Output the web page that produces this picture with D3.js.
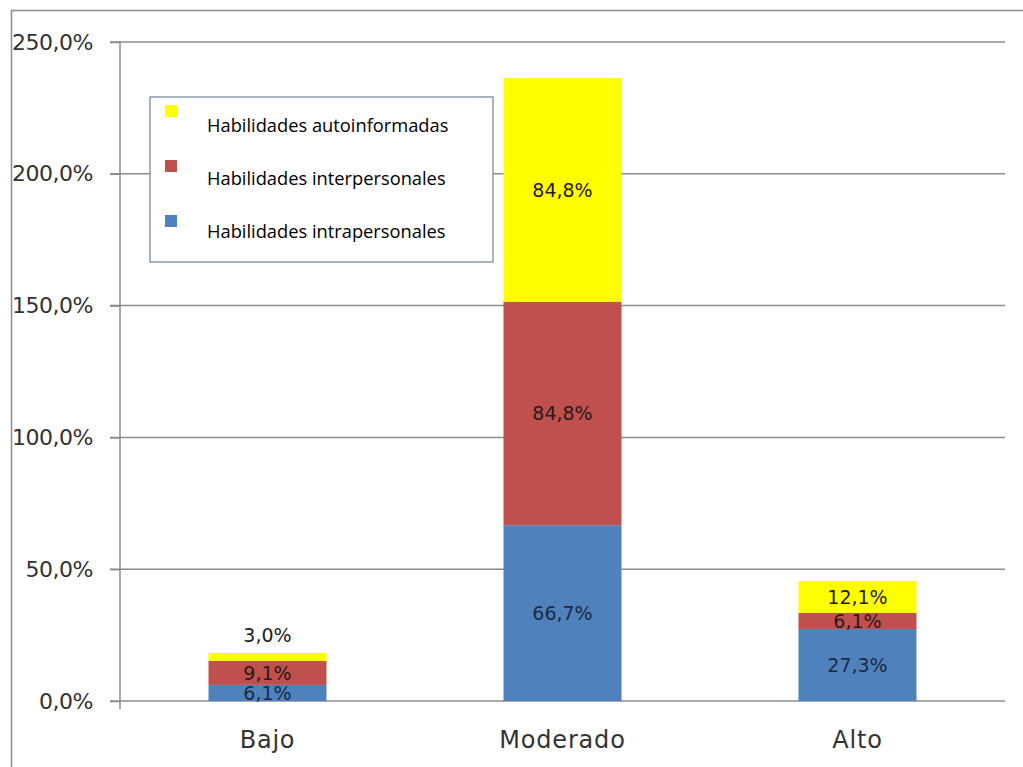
<!DOCTYPE html>
<html>
<head>
<meta charset="utf-8">
<script src="https://cdn.jsdelivr.net/npm/d3@7"></script>
<style>
  body { margin: 0; background: #fff; }
  svg { display: block; }
</style>
</head>
<body>
<div class="svg-container"></div>
<script>
// chart data
const categories = ['Bajo', 'Moderado', 'Alto'];
const seriesNames = ['Habilidades intrapersonales', 'Habilidades interpersonales', 'Habilidades autoinformadas'];
const intrapersonales = [6.1, 66.7, 27.3];
const interpersonales = [9.1, 84.8, 6.1];
const autoinformadas = [3.0, 84.8, 12.1];
const yTicks = [0, 50, 100, 150, 200, 250];
const colors = ['#4f81bd', '#c0504d', '#ffff00'];

const svgWidth = 1023;
const svgHeight = 767;
const margin = { top: 42, right: 18, bottom: 66, left: 120 };
const width = svgWidth - margin.left - margin.right;
const height = svgHeight - margin.top - margin.bottom;

const svg = d3.select('.svg-container')
  .append('svg')
  .attr('width', svgWidth)
  .attr('height', svgHeight);

// outer frame (right/bottom edges fall outside the picture)
svg.append('rect')
  .attr('x', 11.5).attr('y', 10.5)
  .attr('width', 1100).attr('height', 900)
  .attr('fill', 'none').attr('stroke', '#8c8c8c').attr('stroke-width', 1.5);

const group = svg.append('g')
  .attr('transform', `translate(${margin.left}, ${margin.top})`);

const table = categories.map((c, i) => ({
  cat: c,
  intra: intrapersonales[i],
  inter: interpersonales[i],
  auto: autoinformadas[i]
}));
const keys = ['intra', 'inter', 'auto'];
const stacked = d3.stack().keys(keys)(table);

const x = d3.scaleBand().domain(categories).range([0, width]).paddingInner(0.6).paddingOuter(0.3);
const y = d3.scaleLinear().domain([0, 250]).range([height, 0]);

const labelFont = '"DejaVu Sans", sans-serif';

// gridlines
group.append('g')
  .selectAll('line')
  .data(yTicks)
  .join('line')
  .attr('x1', -10).attr('x2', width)
  .attr('y1', d => y(d)).attr('y2', d => y(d))
  .attr('stroke', '#8c8c8c').attr('stroke-width', 1.5);

// Y axis
const yAxis = group.append('g')
  .call(d3.axisLeft(y).tickValues(yTicks).tickSize(10).tickPadding(17)
    .tickFormat(d => d3.format('.1f')(d).replace('.', ',') + '%'));
yAxis.select('.domain').remove();
yAxis.selectAll('.tick line').attr('stroke', '#8c8c8c').attr('stroke-width', 1.5);
yAxis.selectAll('text')
  .attr('font-family', labelFont).attr('font-size', 22)
  .attr('letter-spacing', -0.5).attr('fill', '#333');
group.append('line')
  .attr('x1', 0).attr('x2', 0).attr('y1', 0).attr('y2', height + 8)
  .attr('stroke', '#8c8c8c').attr('stroke-width', 1.5);

// bars
const layers = group.selectAll('.layer')
  .data(stacked)
  .join('g')
  .attr('fill', (d, i) => colors[i]);

layers.selectAll('rect')
  .data(d => d)
  .join('rect')
  .attr('x', d => x(d.data.cat))
  .attr('width', x.bandwidth())
  .attr('y', d => y(d[1]))
  .attr('height', d => y(d[0]) - y(d[1]));

// data labels
stacked.forEach((layer, i) => {
  group.append('g').selectAll('text')
    .data(layer)
    .join('text')
    .attr('x', d => x(d.data.cat) + x.bandwidth() / 2)
    .attr('y', d => {
      const h = y(d[0]) - y(d[1]);
      return h < 12 ? y(d[1]) - 18 : (y(d[0]) + y(d[1])) / 2;
    })
    .attr('dy', '0.35em')
    .attr('text-anchor', 'middle')
    .attr('font-family', labelFont)
    .attr('font-size', 19)
    .attr('fill', i === 0 ? '#1c2a44' : '#2a1a1a')
    .text(d => d3.format('.1f')(d[1] - d[0]).replace('.', ',') + '%');
});

// X axis labels
group.append('g')
  .selectAll('text')
  .data(categories)
  .join('text')
  .attr('x', d => x(d) + x.bandwidth() / 2)
  .attr('y', height + 39)
  .attr('dy', '0.35em')
  .attr('text-anchor', 'middle')
  .attr('font-family', labelFont)
  .attr('font-size', 24)
  .attr('letter-spacing', 0.8)
  .attr('fill', '#333')
  .text(d => d);

// legend
const legend = svg.append('g').attr('transform', 'translate(150, 97)');
legend.append('rect')
  .attr('width', 343).attr('height', 165)
  .attr('fill', '#fff').attr('stroke', '#8a9cac').attr('stroke-width', 1.5);
const legendItems = seriesNames.slice().reverse();
const legendColors = colors.slice().reverse();
legendItems.forEach((name, i) => {
  legend.append('rect')
    .attr('x', 15).attr('y', 8 + i * 55)
    .attr('width', 12).attr('height', 12)
    .attr('fill', legendColors[i]);
  legend.append('text')
    .attr('x', 57).attr('y', 29 + i * 53)
    .attr('dy', '0.35em')
    .attr('font-family', '"Open Sans", sans-serif')
    .attr('font-size', 18.3)
    .attr('fill', '#000')
    .text(name);
});
</script>
</body>
</html>
